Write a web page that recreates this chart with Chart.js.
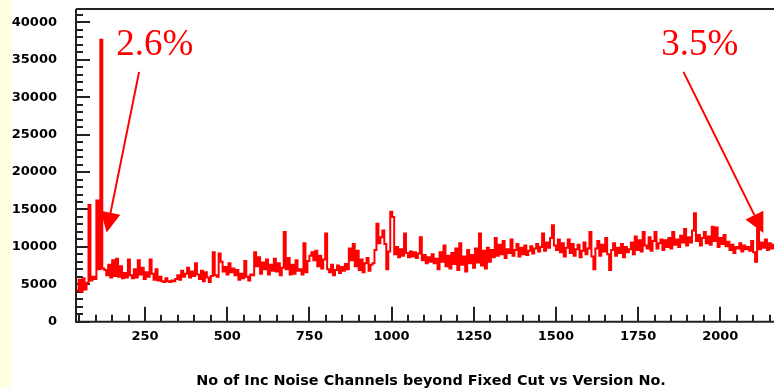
<!DOCTYPE html>
<html>
<head>
<meta charset="utf-8">
<script src="https://cdn.jsdelivr.net/npm/chart.js@4.4.1/dist/chart.umd.min.js"></script>
<style>
  html, body { margin: 0; padding: 0; }
  body {
    width: 774px; height: 388px; overflow: hidden;
    background: linear-gradient(to right, #ffffe0 0, #ffffe0 11px, #ffffff 11px);
  }
  #noiseChart { display: block; }
</style>
</head>
<body>
<!-- the plot frame runs slightly past the right edge of the page -->
<canvas id="noiseChart" width="786" height="388"></canvas>
<script>
// Version numbers: first bin and bin width
var firstVersion = 42;
var versionStep = 6;

// Number of incoherent noise channels beyond the fixed cut, one value per bin
var noiseCounts = [
  4200, 5600, 4000, 5800, 4300, 5200, 15600, 5500, 6000, 5700,
  16200, 7000, 37700, 7100, 6900, 6200, 7600, 5900, 8200, 6100,
  8400, 6000, 7400, 5800, 6500, 5900, 8300, 6200, 5800, 7000,
  5900, 8200, 6300, 7200, 5700, 6600, 6000, 8300, 6400, 5600,
  7000, 5500, 6000, 5400, 5300, 5800, 5400, 5300, 5500, 5400,
  5700, 6200, 5600, 6800, 6000, 6400, 7200, 5900, 6700, 6100,
  7800, 6300, 5700, 6800, 5400, 6600, 5900, 5300, 6100, 9300,
  6200, 6000, 9100, 8000, 6700, 7300, 6300, 7800, 6600, 7100,
  6200, 6900, 5600, 6400, 5800, 8100, 6000, 5500, 6300, 6200,
  9300, 7400, 8600, 6400, 7900, 7000, 8300, 6300, 7600, 6800,
  8400, 6700, 7800, 6200, 7200, 12000, 7000, 8500, 6300, 7600,
  6400, 8200, 6800, 7000, 6300, 10500, 6600, 8100, 8800, 9300,
  8200, 9500, 7400, 8800, 7100, 8300, 11800, 7000, 6600, 7600,
  6200, 6900, 7500, 6500, 7300, 6800, 7700, 7000, 9800, 8200,
  10400, 7400, 9500, 6900, 8300, 6600, 7800, 8500, 6800, 7600,
  7800, 9600, 13100, 10500, 11300, 12200, 10400, 7000, 9400, 14700,
  14000, 9000, 10000, 8600, 9700, 8800, 11800, 9200, 8600, 9400,
  8700, 9300, 8500, 9100, 11300, 8200, 8900, 7800, 8600, 8000,
  9000, 7800, 8400, 7000, 9300, 8000, 10200, 7400, 8800, 7100,
  9200, 7700, 9800, 6900, 10500, 7600, 8700, 6700, 9600, 7800,
  8900, 7200, 9800, 7900, 11800, 7500, 9500, 7100, 9900, 8000,
  9600, 8600, 11200, 8800, 10300, 9000, 10800, 8500, 9700, 9200,
  11000, 8800, 9600, 10400, 8700, 9900, 9000, 10200, 8900, 9500,
  10100, 9100, 9800, 10400, 9400, 10000, 11800, 9500, 10600, 9900,
  11200, 12900, 10200, 9600, 11000, 9300, 10500, 8700, 9900, 11000,
  9200, 10400, 8800, 9700, 10300, 8600, 9500, 10600, 9000, 9800,
  12000, 8700, 7000, 9800, 10800, 8800, 10300, 9400, 11200, 9000,
  6900, 9600, 10500, 8800, 9900, 9200, 10400, 8600, 10000, 9300,
  9700, 10600, 9000, 11400, 9600, 10900, 9400, 12000, 10200, 9800,
  11300, 9500, 10800, 12000, 9800, 10500, 11000, 9600, 10900, 10000,
  11200, 9800, 12000, 10300, 11000, 10000, 11500, 10600, 12400, 10200,
  11300, 10600, 12200, 14500, 10800, 11600, 10200, 11200, 12000, 10500,
  11400, 10300, 12700, 10800, 12600, 10000, 11200, 10400, 11600, 10100,
  10700, 9600, 10300, 9200, 10000, 9800, 10500, 9400, 10200, 9700,
  10000, 9500, 10800, 9300, 8000, 12400, 9700, 10600, 9900, 11000,
  9600, 10500, 9800, 10300, 9900, 10600
];

// Axis tick labels
var xTickLabels = [250, 500, 750, 1000, 1250, 1500, 1750, 2000];
var yTickLabels = [0, 5000, 10000, 15000, 20000, 25000, 30000, 35000, 40000];
var xMinorStep = 50, xMajorStep = 250;
var yMinorStep = 1000, yMajorStep = 5000;

// Percentage callouts with arrows (data coordinates)
var notes = [
  { text: '2.6%', at: [280, 37000], from: [232, 33400], to: [133, 11930] },
  { text: '3.5%', at: [1938, 37000], from: [1888, 33400], to: [2131, 11850] }
];

var points = noiseCounts.map(function(v, i) {
  return { x: firstVersion + i * versionStep, y: v };
});

var axisColor = '#222';
var red = '#ff0000';

// frame and inward-pointing tick marks
var axisFrame = {
  id: 'axisFrame',
  beforeDatasetsDraw: function(chart) {
    var ctx = chart.ctx, a = chart.chartArea;
    var xs = chart.scales.x, ys = chart.scales.y;
    ctx.save();
    ctx.strokeStyle = axisColor;
    ctx.lineWidth = 2;
    ctx.beginPath();
    ctx.moveTo(a.left, a.top);
    ctx.lineTo(a.right, a.top);
    ctx.moveTo(a.left, a.top);
    ctx.lineTo(a.left, a.bottom);
    ctx.lineTo(a.right, a.bottom);
    for (var v = 0; v <= ys.max; v += yMinorStep) {
      var py = Math.round(ys.getPixelForValue(v));
      var len = v % yMajorStep === 0 ? 14 : 7;
      ctx.moveTo(a.left, py);
      ctx.lineTo(a.left + len, py);
    }
    for (var u = xMinorStep; u <= xs.max; u += xMinorStep) {
      var px = Math.round(xs.getPixelForValue(u));
      var h = u % xMajorStep === 0 ? 15 : 7;
      ctx.moveTo(px, a.bottom);
      ctx.lineTo(px, a.bottom - h);
    }
    ctx.stroke();
    ctx.restore();
  }
};

// red percentage labels with arrows
var callouts = {
  id: 'callouts',
  afterDatasetsDraw: function(chart) {
    var ctx = chart.ctx;
    var xs = chart.scales.x, ys = chart.scales.y;
    ctx.save();
    ctx.fillStyle = red;
    ctx.strokeStyle = red;
    ctx.font = '37px "Liberation Serif", "Times New Roman", serif';
    ctx.textAlign = 'center';
    ctx.textBaseline = 'middle';
    notes.forEach(function(n) {
      ctx.fillText(n.text, xs.getPixelForValue(n.at[0]), ys.getPixelForValue(n.at[1]));
      var x0 = xs.getPixelForValue(n.from[0]), y0 = ys.getPixelForValue(n.from[1]);
      var x1 = xs.getPixelForValue(n.to[0]), y1 = ys.getPixelForValue(n.to[1]);
      var dx = x1 - x0, dy = y1 - y0, d = Math.sqrt(dx * dx + dy * dy);
      var ux = dx / d, uy = dy / d;
      var headLen = 20, headHalf = 10;
      var bx = x1 - ux * headLen, by = y1 - uy * headLen;
      ctx.lineWidth = 2;
      ctx.beginPath();
      ctx.moveTo(x0, y0);
      ctx.lineTo(bx, by);
      ctx.stroke();
      ctx.beginPath();
      ctx.moveTo(x1, y1);
      ctx.lineTo(bx - uy * headHalf, by + ux * headHalf);
      ctx.lineTo(bx + uy * headHalf, by - ux * headHalf);
      ctx.closePath();
      ctx.fill();
    });
    ctx.restore();
  }
};

var labelFont = { family: '"DejaVu Sans", sans-serif', size: 13, weight: 'bold' };
var plainNumber = function(v) { return String(v); };

new Chart(document.getElementById('noiseChart'), {
  type: 'line',
  data: {
    datasets: [{
      data: points,
      borderColor: red,
      borderWidth: 2,
      stepped: true,
      pointRadius: 0,
      fill: false
    }]
  },
  options: {
    responsive: false,
    animation: false,
    events: [],
    layout: { padding: { top: 9, right: 0, bottom: 0, left: 0 } },
    plugins: {
      legend: { display: false },
      tooltip: { enabled: false }
    },
    scales: {
      x: {
        type: 'linear',
        min: 40,
        max: 2200,
        grid: { display: false, drawTicks: false },
        border: { display: false },
        afterBuildTicks: function(scale) {
          scale.ticks = xTickLabels.map(function(v) { return { value: v }; });
        },
        afterFit: function(scale) {
          scale.height = 66.3;
          scale.paddingLeft = 0;
          scale.paddingRight = 0;
        },
        ticks: { color: '#000', font: labelFont, padding: 7, maxRotation: 0, callback: plainNumber },
        title: {
          display: true,
          text: 'No of Inc Noise Channels beyond Fixed Cut vs Version No.',
          color: '#000',
          font: { family: '"DejaVu Sans", sans-serif', size: 14.4, weight: 'bold', lineHeight: 1 },
          padding: { top: 0, bottom: 0 }
        }
      },
      y: {
        min: 0,
        max: 41800,
        grid: { display: false, drawTicks: false },
        border: { display: false },
        afterBuildTicks: function(scale) {
          scale.ticks = yTickLabels.map(function(v) { return { value: v }; });
        },
        afterFit: function(scale) {
          scale.width = 76;
          scale.paddingTop = 0;
          scale.paddingBottom = 0;
        },
        ticks: { color: '#000', font: labelFont, padding: 19, callback: plainNumber }
      }
    }
  },
  plugins: [axisFrame, callouts]
});
</script>
</body>
</html>
